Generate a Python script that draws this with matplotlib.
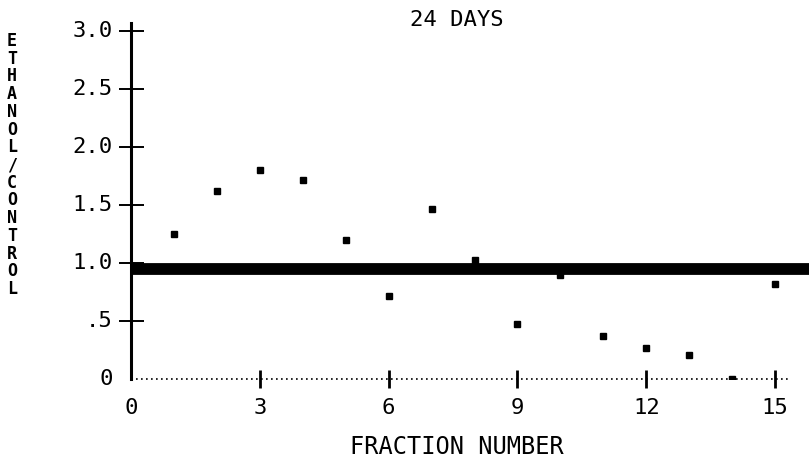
import matplotlib
matplotlib.use("Agg")
import matplotlib.pyplot as plt

# values
fraction = [1, 2, 3, 4, 5, 6, 7, 8, 9, 10, 11, 12, 13, 14, 15]
ratio = [1.25, 1.62, 1.80, 1.72, 1.20, 0.72, 1.47, 1.03, 0.47, 0.90, 0.37, 0.27, 0.21, 0.0, 0.82]
control_level = 0.95

x_ticks = [3, 6, 9, 12, 15]
x_labels = ["0", "3", "6", "9", "12", "15"]
y_ticks = [0.5, 1.0, 1.5, 2.0, 2.5, 3.0]
y_labels = ["0", ".5", "1.0", "1.5", "2.0", "2.5", "3.0"]

plt.rcParams["font.family"] = ["DejaVu Sans Mono"]

fig = plt.figure(figsize=(8.09, 4.62), dpi=100)
ax = fig.add_axes([131 / 809, 83 / 462, 1 - 131 / 809, 356 / 462])
ax.set_xlim(0, 15.79)
ax.set_ylim(0, 3.07)
ax.patch.set_alpha(0)
for s in ax.spines.values():
    s.set_visible(False)

# axes lines
ax.axvline(0, color="black", lw=2.2, clip_on=False)
ax.plot([0, 15.35], [0, 0], color="black", lw=1.2, ls=(0, (1, 2)), clip_on=False)

# thick control line
ax.axhline(control_level, color="black", lw=8.5)

ax.plot(fraction, ratio, "s", color="black", ms=5)

ax.set_yticks(y_ticks)
ax.set_yticklabels([])
ax.tick_params(axis="y", direction="inout", length=18, width=1.4, color="black")
ax.set_xticks(x_ticks)
ax.set_xticklabels([])
ax.tick_params(axis="x", direction="inout", length=13, width=2, color="black")

# tick labels
for v, lab in zip([0] + y_ticks, y_labels):
    ax.text(-0.43, v, lab, ha="right", va="center", fontsize=16)
for v, lab in zip([0] + x_ticks, x_labels):
    ax.text(v, -0.25, lab, ha="center", va="center", fontsize=16)

fig.text(457 / 809, 1 - 447 / 462, "FRACTION NUMBER", ha="center", va="center", fontsize=17)
fig.text(457 / 809, 1 - 20 / 462, "24 DAYS", ha="center", va="center", fontsize=16)
fig.text(12 / 809, 1 - 165 / 462, "\n".join("ETHANOL/CONTROL"), ha="center", va="center",
         fontsize=12, linespacing=0.98, fontweight="bold")

fig.savefig("out.png", dpi=100)
